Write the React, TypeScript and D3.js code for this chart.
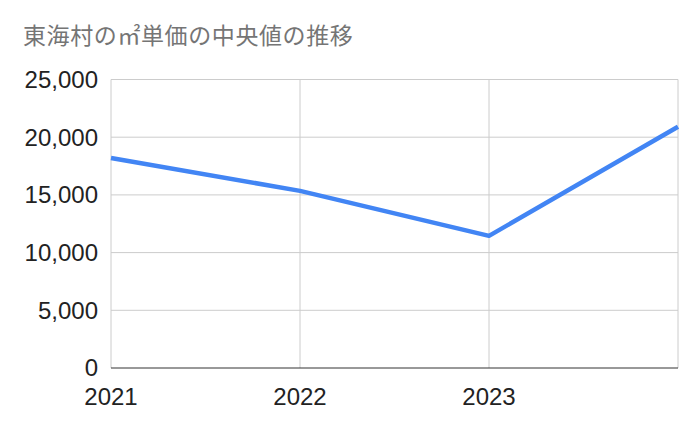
import React from "react";
import * as d3 from "d3";

const years = ["2021", "2022", "2023", "2024"];
const values = [18200, 15350, 11450, 20900];
const yTicks = [0, 5000, 10000, 15000, 20000, 25000];
const xLabels = ["2021", "2022", "2023"];
const title = "東海村の㎡単価の中央値の推移";

export default function App() {
  const W = 700, H = 433;
  const left = 111, right = 678, top = 79.5, bottom = 368;
  const x = d3.scalePoint<string>().domain(years).range([left, right]);
  const y = d3.scaleLinear().domain([0, 25000]).range([bottom, top]);
  const line = d3.line<number>().x((_, i) => x(years[i])!).y(d => y(d));
  const fmt = d3.format(",");
  const font = "'Liberation Sans', Arial, sans-serif";
  return (
    <svg width={W} height={H} style={{ position: "absolute", left: 0, top: 0, background: "#fff" }}>
      <rect width={W} height={H} fill="#fff" />
      <text x={23} y={44} fontSize={23} letterSpacing={0.6} fill="#757575" fontFamily="'Noto Sans CJK JP', sans-serif">{title}</text>
      {yTicks.map(t => (
        <g key={t}>
          {t > 0 && <line x1={left} x2={right} y1={y(t)} y2={y(t)} stroke="#cccccc" strokeWidth={1} />}
          <text x={98} y={y(t)} dy="0.35em" textAnchor="end" fontSize={24} fill="#222" fontFamily={font}>{fmt(t)}</text>
        </g>
      ))}
      {years.map(yr => (
        <line key={yr} x1={x(yr)} x2={x(yr)} y1={top} y2={bottom} stroke="#cccccc" strokeWidth={1} />
      ))}
      <line x1={left} x2={right} y1={bottom} y2={bottom} stroke="#333" strokeWidth={1} />
      {xLabels.map(yr => (
        <text key={yr} x={x(yr)} y={405} textAnchor="middle" fontSize={24} fill="#222" fontFamily={font}>{yr}</text>
      ))}
      <path d={line(values) || ""} fill="none" stroke="#4285F4" strokeWidth={4.5} strokeLinejoin="round" />
    </svg>
  );
}
